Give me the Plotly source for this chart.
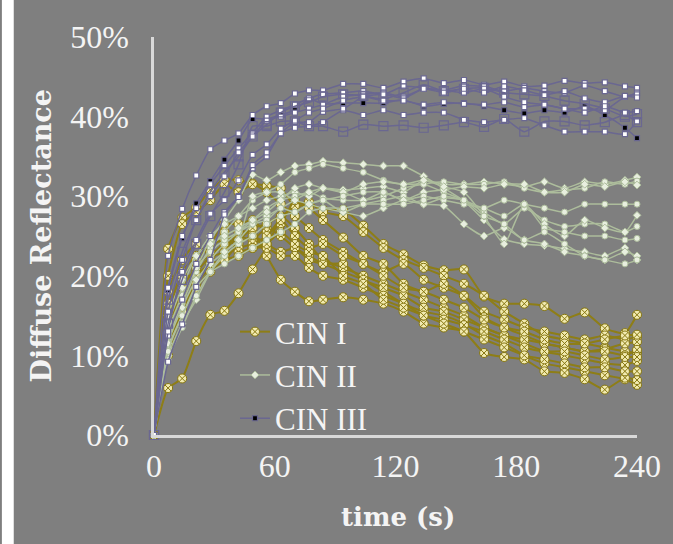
import plotly.graph_objects as go

# Sampling times (s)
time_s = [0, 7, 14, 21, 28, 35, 42, 49, 56, 63, 70, 77, 84, 94, 104, 114, 124,
          134, 144, 154, 164, 174, 184, 194, 204, 214, 224, 234, 240]

# Diffuse reflectance (%) per patient, grouped by lesion grade
cin1_curves = [
    [0, 23.4, 27.3, 28.6, 30.8, 32.1, 32.0, 31.6, 31.3, 31.0, 28.7, 29.0, 28.3, 28.3, 26.3, 24.0, 22.7, 21.3, 20.7, 20.8, 17.4, 16.5, 16.5, 16.2, 14.6, 15.4, 13.4, 12.8, 15.1],
    [0, 5.9, 7.1, 11.8, 15.1, 15.6, 17.8, 20.8, 23.6, 27.3, 28.8, 29.3, 28.0, 27.5, 25.5, 23.5, 22.0, 21.0, 20.0, 19.0, 17.5, 15.5, 14.0, 12.5, 12.0, 11.5, 11.0, 10.5, 10.3],
    [0, 20.0, 26.5, 28.0, 29.5, 31.5, 30.5, 31.5, 30.5, 29.0, 27.5, 26.0, 24.5, 23.0, 21.5, 20.5, 21.5, 19.5, 18.5, 17.5, 15.5, 14.5, 13.5, 13.0, 12.5, 12.0, 12.5, 12.0, 12.3],
    [0, 15.0, 20.5, 22.5, 24.0, 24.5, 25.0, 24.5, 26.0, 25.0, 23.5, 22.5, 21.5, 20.5, 19.5, 18.0, 16.5, 15.5, 15.0, 14.0, 12.5, 11.5, 10.0, 9.0, 8.5, 8.0, 7.5, 7.0, 6.3],
    [0, 18.0, 22.0, 24.0, 22.5, 23.0, 25.5, 25.5, 22.5, 19.5, 18.0, 16.8, 17.0, 17.3, 17.0, 16.5, 15.5, 14.0, 13.5, 13.0, 10.3, 9.8, 9.5, 8.0, 7.8, 7.0, 5.7, 7.2, 6.9],
    [0, 14.0, 19.5, 20.5, 22.5, 24.0, 24.5, 26.0, 26.5, 27.5, 26.0, 24.0, 22.0, 21.0, 20.0, 19.0, 18.0, 17.0, 16.0, 15.0, 13.5, 12.5, 11.5, 10.5, 10.0, 9.5, 9.0, 8.8, 9.3],
    [0, 16.5, 20.0, 22.0, 24.0, 26.5, 26.5, 27.0, 25.5, 26.5, 29.5, 28.5, 27.0, 24.8, 22.5, 21.5, 19.0, 18.0, 19.0, 17.5, 14.8, 13.5, 12.5, 11.5, 11.0, 10.5, 10.8, 11.5, 11.7],
    [0, 12.0, 17.0, 20.0, 21.5, 22.0, 24.0, 25.0, 24.0, 23.0, 23.5, 22.0, 21.5, 21.5, 19.5, 18.5, 17.5, 16.0, 15.5, 14.5, 13.5, 12.5, 12.0, 11.5, 11.0, 10.5, 10.5, 10.0, 10.7],
    [0, 11.0, 16.0, 19.0, 21.0, 22.5, 23.5, 24.0, 25.0, 27.0, 25.0, 23.5, 24.0, 22.5, 21.5, 20.0, 18.5, 18.0, 17.0, 16.0, 14.5, 13.5, 13.0, 12.0, 11.5, 11.5, 12.0, 12.5, 12.6],
    [0, 13.0, 18.5, 21.0, 23.0, 25.5, 23.0, 23.5, 23.5, 22.5, 22.5, 21.0, 20.0, 19.5, 18.5, 17.5, 16.5, 15.0, 14.5, 13.8, 13.0, 12.0, 11.0, 10.5, 10.5, 10.0, 9.5, 9.8, 9.8],
    [0, 10.0, 15.5, 18.5, 20.5, 22.0, 22.5, 23.5, 24.0, 25.5, 24.0, 23.0, 22.5, 20.0, 19.0, 17.0, 16.0, 15.0, 14.0, 13.0, 12.0, 11.0, 10.0, 9.5, 9.0, 8.5, 8.5, 8.0, 8.0],
]

cin2_curves = [
    [0, 13.0, 17.5, 21.0, 24.5, 27.0, 29.5, 32.7, 32.0, 33.0, 33.8, 34.0, 34.4, 34.2, 34.0, 33.8, 33.8, 32.5, 31.0, 29.4, 27.0, 24.6, 24.0, 23.8, 23.4, 23.0, 22.5, 23.5, 22.0],
    [0, 12.0, 16.5, 20.5, 23.5, 25.5, 27.5, 29.5, 30.5, 31.5, 33.0, 33.5, 34.0, 33.5, 33.0, 32.0, 31.5, 31.5, 30.5, 29.5, 28.0, 26.5, 28.5, 27.0, 26.2, 26.5, 26.5, 25.5, 26.2],
    [0, 15.0, 19.5, 22.5, 25.0, 26.5, 27.5, 28.5, 29.5, 30.0, 30.5, 30.0, 31.0, 30.8, 31.0, 31.2, 30.5, 32.0, 31.5, 31.5, 31.8, 31.5, 31.2, 31.8, 31.0, 31.8, 31.5, 32.0, 32.4],
    [0, 11.0, 15.0, 19.0, 22.0, 24.0, 25.5, 27.0, 28.5, 29.5, 30.0, 30.5, 29.8, 29.5, 29.5, 30.0, 31.0, 31.5, 31.8, 31.5, 31.5, 31.8, 31.0, 30.5, 30.8, 31.0, 31.8, 31.5, 31.9],
    [0, 10.0, 14.0, 17.0, 20.5, 23.0, 24.5, 26.5, 27.5, 28.5, 29.5, 30.5, 31.0, 30.5, 29.5, 30.5, 29.5, 30.5, 30.8, 31.2, 31.0, 31.5, 31.5, 30.5, 30.5, 31.5, 31.2, 31.8, 31.4],
    [0, 12.5, 17.0, 21.0, 23.0, 24.5, 25.5, 26.5, 27.0, 28.5, 28.0, 29.0, 29.5, 28.0, 29.0, 29.5, 30.0, 29.0, 29.8, 29.5, 28.5, 29.5, 29.0, 28.5, 28.0, 29.0, 29.0, 29.0, 29.0],
    [0, 14.0, 18.5, 22.5, 24.0, 25.0, 26.0, 27.0, 28.0, 29.5, 31.0, 31.5, 31.0, 30.5, 31.5, 31.8, 31.5, 32.0, 31.2, 30.5, 27.5, 24.0, 29.0, 26.5, 25.0, 27.0, 26.0, 25.5, 27.6],
    [0, 9.5, 13.5, 17.5, 20.5, 22.5, 24.0, 25.0, 26.5, 27.5, 28.0, 29.0, 29.5, 30.0, 30.5, 30.5, 29.5, 30.0, 29.5, 29.0, 28.5, 27.5, 29.0, 26.0, 25.5, 25.0, 25.0, 24.5, 24.7],
    [0, 11.5, 16.0, 19.5, 21.5, 23.0, 24.5, 30.0, 30.5, 30.5, 29.5, 29.0, 28.5, 28.0, 27.5, 28.5, 29.5, 29.0, 28.8, 26.5, 25.0, 26.0, 24.5, 24.0, 23.0, 22.5, 22.0, 23.0, 22.5],
    [0, 10.5, 15.0, 18.5, 20.5, 21.5, 22.5, 23.5, 24.5, 25.5, 26.5, 28.0, 28.5, 28.5, 29.0, 29.0, 29.0, 29.5, 30.0, 29.5, 27.5, 26.5, 24.5, 25.5, 24.0, 22.5, 22.0, 21.5, 22.0],
]

cin3_curves = [
    [0, 18.2, 24.7, 29.1, 31.9, 34.6, 37.0, 39.7, 39.7, 40.2, 40.8, 42.2, 41.6, 41.7, 41.7, 41.7, 42.1, 41.3, 41.6, 41.7, 41.3, 40.8, 40.4, 40.8, 40.5, 41.3, 40.2, 38.6, 37.3],
    [0, 22.5, 28.4, 32.6, 35.9, 37.0, 37.9, 40.2, 41.3, 41.7, 42.9, 43.3, 43.3, 44.1, 44.1, 43.6, 44.4, 44.8, 44.2, 44.6, 44.0, 44.4, 43.8, 43.9, 44.5, 44.2, 44.3, 43.8, 43.6],
    [0, 18.5, 25.0, 28.5, 31.5, 33.8, 36.0, 38.0, 40.0, 40.8, 41.5, 42.3, 42.8, 43.0, 43.2, 42.8, 43.8, 43.6, 43.3, 43.9, 43.8, 43.2, 43.6, 43.2, 43.0, 43.9, 43.2, 42.5, 43.0],
    [0, 17.0, 23.0, 27.0, 30.5, 33.0, 35.0, 37.5, 39.0, 40.5, 41.3, 41.8, 42.5, 42.8, 42.6, 42.2, 43.0, 44.0, 43.2, 43.5, 43.6, 43.0, 42.8, 42.6, 42.0, 41.6, 41.0, 40.0, 40.3],
    [0, 15.5, 22.0, 27.0, 30.0, 32.5, 35.5, 37.5, 39.5, 40.0, 40.5, 41.0, 41.5, 42.5, 42.8, 43.0, 42.5, 43.5, 43.3, 43.0, 43.5, 42.5, 41.8, 41.5, 41.0, 41.0, 40.8, 42.5, 42.8],
    [0, 14.0, 19.5, 24.0, 27.5, 30.5, 34.0, 38.8, 38.8, 39.4, 39.4, 38.8, 38.8, 38.1, 39.0, 38.8, 38.9, 38.6, 38.9, 39.3, 38.7, 39.7, 38.1, 39.4, 39.4, 38.9, 39.3, 40.2, 39.3],
    [0, 12.5, 17.0, 21.5, 25.0, 28.0, 30.0, 33.5, 35.0, 37.9, 38.6, 38.8, 39.3, 40.8, 40.2, 40.8, 40.2, 40.5, 40.5, 39.6, 39.3, 39.6, 39.8, 38.9, 38.1, 38.1, 38.1, 37.8, 39.4],
    [0, 9.2, 13.9, 18.6, 22.0, 27.7, 29.9, 33.9, 35.5, 37.9, 39.3, 39.3, 40.6, 41.0, 42.5, 42.8, 42.3, 43.5, 43.0, 43.5, 43.0, 43.8, 43.3, 42.7, 43.2, 42.3, 41.8, 42.6, 42.4],
    [0, 13.0, 20.5, 24.5, 27.8, 29.5, 32.0, 35.2, 36.5, 38.5, 39.5, 40.5, 41.0, 42.0, 42.5, 42.0, 42.0, 41.5, 41.8, 41.6, 41.5, 41.8, 41.2, 41.5, 41.0, 40.5, 41.3, 40.5, 40.7],
]

group_names = ["CIN I", "CIN II", "CIN III"]
x_ticks = [0, 60, 120, 180, 240]
y_ticks = [0, 10, 20, 30, 40, 50]
y_tick_text = [f"{v}%" for v in y_ticks]

BG = "#7f7f7f"
AXIS = "#d9d9d9"
TXT = "#f4f4f4"
OLIVE = "#8e7e16"
SAGE = "#adbd9c"
SLATE = "#6a6791"

fig = go.Figure()

# CIN I: olive lines, pale circle-x markers
for i, ys in enumerate(cin1_curves):
    fig.add_trace(go.Scatter(
        x=time_s, y=ys, mode="lines+markers", name=group_names[0],
        legendgroup="g1", showlegend=(i == 0), cliponaxis=False,
        line=dict(color=OLIVE, width=2, shape="spline", smoothing=0.5),
        marker=dict(symbol="circle-x", size=9, color="#f1eab0",
                    line=dict(color="#86760f", width=1)),
    ))

# CIN II: sage lines, small light markers
cin2_symbols = ["diamond", "circle", "diamond", "circle", "diamond",
                "circle", "diamond", "circle", "diamond", "circle"]
for i, ys in enumerate(cin2_curves):
    fig.add_trace(go.Scatter(
        x=time_s, y=ys, mode="lines+markers", name=group_names[1],
        legendgroup="g2", showlegend=(i == 0), cliponaxis=False,
        line=dict(color=SAGE, width=1.5, shape="spline", smoothing=0.5),
        marker=dict(symbol=cin2_symbols[i], size=6, color="#e8efdf",
                    line=dict(color=SAGE, width=1)),
    ))

# CIN III: slate lines, square markers (black, white, open)
cin3_styles = [
    ("square", 5, "#000000"),
    ("square", 5, "#ffffff"),
    ("square", 5, "#ffffff"),
    ("square", 9, "rgba(0,0,0,0)"),
    ("square", 5, "#ffffff"),
    ("square", 9, "rgba(0,0,0,0)"),
    ("square", 5, "#ffffff"),
    ("square", 5, "#ffffff"),
    ("square", 5, "#ffffff"),
]
for i, ys in enumerate(cin3_curves):
    sym, sz, fill = cin3_styles[i]
    fig.add_trace(go.Scatter(
        x=time_s, y=ys, mode="lines+markers", name=group_names[2],
        legendgroup="g3", showlegend=(i == 0), cliponaxis=False,
        line=dict(color=SLATE, width=1.5, shape="spline", smoothing=0.5),
        marker=dict(symbol=sym, size=sz, color=fill,
                    line=dict(color=SLATE, width=1.2)),
    ))

L, R, T, B = 154, 30, 37, 109
W, H = 673, 544
pw, ph = W - L - R, H - T - B

def px_x(p):
    return (p - L) / pw

def px_y(p):
    return (H - B - p) / ph

fig.update_layout(
    width=W, height=H, autosize=False,
    margin=dict(l=L, r=R, t=T, b=B, pad=0),
    paper_bgcolor=BG, plot_bgcolor=BG,
    font=dict(family="Liberation Serif", color=TXT, size=30),
    showlegend=True,
    legend=dict(x=px_x(236), y=px_y(305), xanchor="left", yanchor="top",
                bgcolor="rgba(0,0,0,0)", traceorder="normal",
                font=dict(family="Liberation Serif", size=31, color=TXT),
                itemwidth=30, tracegroupgap=0),
    xaxis=dict(range=[0, 240], tickvals=x_ticks, showgrid=False, zeroline=False,
               showline=True, linecolor=AXIS, linewidth=2.5, ticks="",
               ticklabelstandoff=1,
               tickfont=dict(family="Liberation Serif", size=32, color=TXT)),
    yaxis=dict(range=[0, 50], tickmode="array", tickvals=y_ticks,
               ticktext=y_tick_text, showgrid=False,
               zeroline=False, showline=True, linecolor=AXIS, linewidth=2.5,
               ticks="", ticklabelstandoff=16,
               tickfont=dict(family="Liberation Serif", size=32, color=TXT)),
    shapes=[dict(type="rect", xref="paper", yref="paper",
                 x0=px_x(0), x1=px_x(12), y0=px_y(H), y1=px_y(0),
                 fillcolor="#ffffff", line=dict(width=0), layer="below")],
    annotations=[
        dict(text="<b>Diffuse Reflectance</b>", xref="paper", yref="paper",
             x=px_x(40), y=px_y(236), textangle=-90, showarrow=False,
             xanchor="center", yanchor="middle",
             font=dict(family="DejaVu Serif", size=27, color=TXT)),
        dict(text="<b>time (s)</b>", xref="paper", yref="paper",
             x=px_x(401), y=px_y(517), showarrow=False,
             xanchor="center", yanchor="middle",
             font=dict(family="DejaVu Serif", size=26, color=TXT)),
    ],
)

fig.write_html("out.html")
